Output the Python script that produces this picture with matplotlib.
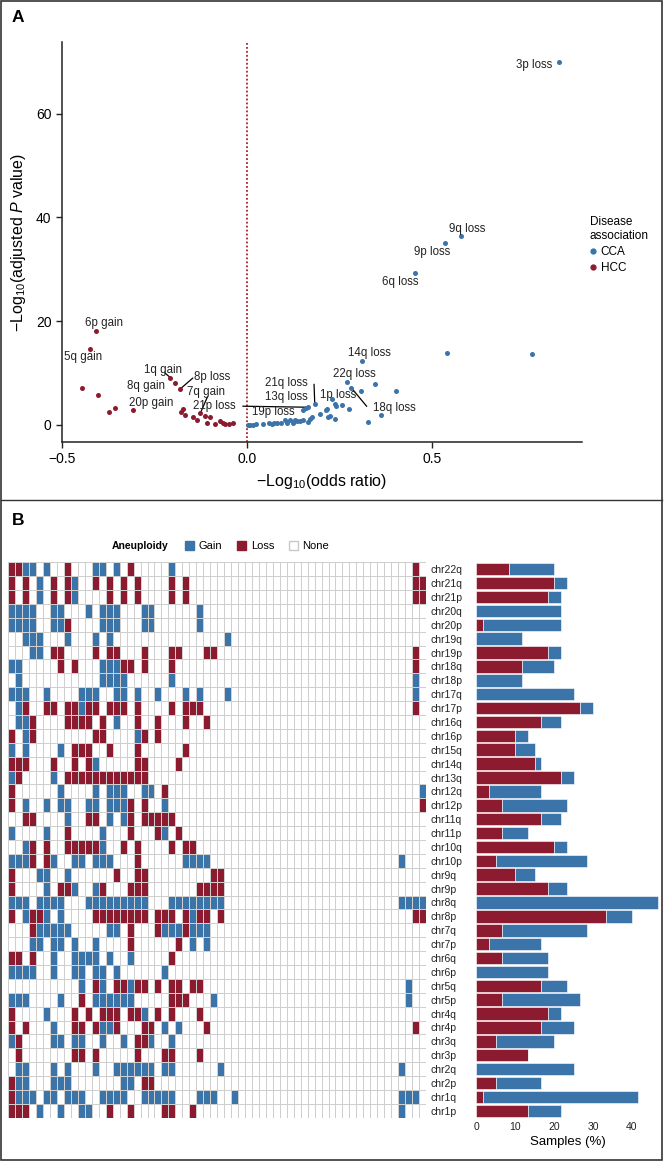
import numpy as np
import matplotlib
matplotlib.use("Agg")
import matplotlib.pyplot as plt
from matplotlib.colors import ListedColormap
from matplotlib.lines import Line2D
from matplotlib.patches import Patch, Rectangle

plt.rcParams["font.family"] = ["Liberation Sans", "DejaVu Sans"]
plt.rcParams["mathtext.fontset"] = "custom"
plt.rcParams["mathtext.rm"] = "Liberation Sans"
plt.rcParams["mathtext.it"] = "Liberation Sans:italic"

BLUE = "#3a74a8"
RED = "#8d1b2f"
W, H = 667, 1162

# ---- panel A: volcano points ----
cca_x = [0.844, 0.577, 0.536, 0.454, 0.310, 0.270, 0.281, 0.183, 0.229, 0.158, 0.165, 0.150,
         0.54, 0.77, 0.002, 0.008, 0.015, 0.023, 0.044, 0.058, 0.067, 0.074, 0.082, 0.091,
         0.103, 0.107, 0.116, 0.124, 0.130, 0.136, 0.143, 0.150, 0.166, 0.170, 0.175, 0.197,
         0.214, 0.217, 0.220, 0.224, 0.238, 0.238, 0.240, 0.256, 0.275, 0.307, 0.328, 0.345,
         0.363, 0.402]
cca_y = [70.0, 36.5, 35.0, 29.2, 12.3, 8.2, 7.2, 4.0, 4.9, 3.2, 3.4, 2.9,
         13.8, 13.6, 0.0, 0.0, 0.05, 0.1, 0.2, 0.3, 0.15, 0.4, 0.3, 0.4,
         0.85, 0.45, 0.9, 0.4, 0.85, 0.75, 0.75, 0.9, 0.6, 1.2, 1.55, 2.05,
         2.85, 3.05, 1.55, 1.7, 1.1, 4.1, 3.6, 3.8, 3.1, 6.5, 0.5, 7.9,
         1.9, 6.5]
hcc_x = [-0.408, -0.424, -0.207, -0.194, -0.181, -0.126, -0.309, -0.445, -0.403, -0.372,
         -0.357, -0.173, -0.178, -0.168, -0.145, -0.136, -0.114, -0.109, -0.100, -0.086,
         -0.073, -0.066, -0.059, -0.050, -0.039]
hcc_y = [18.1, 14.6, 9.1, 8.0, 6.9, 2.3, 2.9, 7.2, 5.7, 2.5,
         3.3, 3.1, 2.4, 1.9, 1.5, 0.9, 1.7, 0.4, 1.5, 0.2,
         0.8, 0.3, 0.1, 0.1, 0.3]

# label text, point (x, y), text (x, y), alignment, leader line?
labels = [
    ("3p loss", (0.844, 70.0), (0.824, 69.4), "right", False),
    ("9q loss", (0.577, 36.5), (0.546, 37.8), "left", False),
    ("9p loss", (0.536, 35.0), (0.451, 33.4), "left", False),
    ("6q loss", (0.454, 29.2), (0.365, 27.6), "left", False),
    ("14q loss", (0.310, 12.3), (0.273, 13.9), "left", False),
    ("22q loss", (0.270, 8.2), (0.232, 9.8), "left", False),
    ("21q loss", (0.183, 4.0), (0.049, 8.1), "left", True),
    ("13q loss", (0.158, 3.2), (0.049, 5.3), "left", False),
    ("19p loss", (0.150, 2.9), (0.014, 2.5), "left", False),
    ("1p loss", (0.229, 4.9), (0.197, 5.7), "left", False),
    ("18q loss", (0.281, 7.2), (0.341, 3.2), "left", True),
    ("21p loss", (0.165, 3.4), (-0.146, 3.6), "left", True),
    ("6p gain", (-0.408, 18.1), (-0.438, 19.7), "left", False),
    ("5q gain", (-0.424, 14.6), (-0.495, 13.1), "left", False),
    ("1q gain", (-0.207, 9.1), (-0.278, 10.5), "left", True),
    ("8q gain", (-0.194, 8.0), (-0.324, 7.5), "left", False),
    ("8p loss", (-0.181, 6.9), (-0.143, 9.3), "left", True),
    ("7q gain", (-0.126, 2.3), (-0.162, 6.4), "left", True),
    ("20p gain", (-0.309, 2.9), (-0.319, 4.2), "left", False),
]
leader_starts = {"21q loss": (0.181, 7.8), "18q loss": (0.323, 3.6), "21p loss": (-0.011, 3.6),
                 "1q gain": (-0.222, 10.0), "8p loss": (-0.147, 9.0), "7q gain": (-0.107, 5.4)}

# ---- panel B: per-sample arm calls (columns = 60 samples) ----
arms = ["chr22q", "chr21q", "chr21p", "chr20q", "chr20p", "chr19q", "chr19p", "chr18q",
        "chr18p", "chr17q", "chr17p", "chr16q", "chr16p", "chr15q", "chr14q", "chr13q",
        "chr12q", "chr12p", "chr11q", "chr11p", "chr10q", "chr10p", "chr9q", "chr9p",
        "chr8q", "chr8p", "chr7q", "chr7p", "chr6q", "chr6p", "chr5q", "chr5p",
        "chr4q", "chr4p", "chr3q", "chr3p", "chr2q", "chr2p", "chr1q", "chr1p"]
gain_cols = [
    [2, 3, 5, 12, 13, 15, 23],
    [4, 9],
    [4, 9],
    [0, 1, 2, 3, 6, 7, 11, 13, 14, 15, 19, 20, 27],
    [0, 1, 2, 3, 6, 7, 13, 14, 15, 19, 20, 27],
    [2, 3, 4, 8, 12, 14, 31],
    [3, 4],
    [0, 1, 13, 14, 15],
    [1, 13, 14, 15, 16, 23, 58],
    [0, 1, 2, 5, 10, 11, 12, 15, 16, 18, 21, 25, 27, 31, 58],
    [1, 10],
    [1, 2, 15],
    [2, 18],
    [0, 2, 7],
    [12],
    [0, 6],
    [7, 12, 14, 15, 16, 19, 20, 59],
    [2, 5, 7, 8, 11, 12, 14, 15, 16, 22],
    [8, 14, 16],
    [0, 5, 13, 22],
    [2, 13],
    [0, 1, 2, 6, 9, 10, 12, 13, 14, 25, 26, 27, 28, 56],
    [4, 5, 8],
    [5, 9, 12],
    [0, 1, 2, 4, 5, 6, 7, 11, 12, 13, 14, 15, 16, 17, 18, 19, 23, 24, 25, 26, 27, 28,
     29, 30, 56, 57, 58, 59],
    [2, 5, 7, 26],
    [4, 5, 6, 7, 8, 14, 15, 22, 23, 24, 26, 27, 28],
    [3, 4, 6, 7, 9, 12, 26, 28],
    [6, 9, 10, 11, 12, 14, 17],
    [0, 1, 2, 3, 6, 9, 10, 12, 13, 15, 22],
    [10, 13, 17, 57],
    [0, 1, 2, 7, 12, 13, 14, 15, 16, 17, 29, 57],
    [5, 19],
    [6, 13, 14, 22, 24],
    [0, 6, 7, 9, 10, 13, 16, 20, 23],
    [],
    [1, 2, 6, 8, 12, 15, 16, 17, 18, 19, 20, 22, 23, 30, 56],
    [1, 2, 6, 7, 8, 16, 17],
    [1, 2, 3, 5, 6, 8, 9, 10, 13, 14, 15, 16, 19, 20, 21, 22, 23, 27, 28, 29, 32, 56, 57, 58],
    [4, 7, 10, 11, 56],
]
loss_cols = [
    [0, 1, 8, 17, 58],
    [0, 2, 6, 8, 12, 14, 16, 18, 23, 25, 58, 59],
    [0, 2, 6, 8, 14, 16, 18, 23, 25, 58, 59],
    [],
    [8],
    [],
    [6, 7, 12, 14, 15, 19, 23, 24, 28, 29, 58],
    [7, 9, 16, 17, 19, 23, 58],
    [],
    [],
    [2, 5, 6, 8, 9, 11, 12, 14, 15, 16, 18, 23, 25, 26, 27, 58],
    [3, 8, 9, 10, 11, 13, 18, 21, 25, 28],
    [0, 3, 12, 13, 19, 21],
    [9, 10, 11, 14, 18, 25],
    [0, 1, 2, 6, 9, 11, 18, 19, 24],
    [1, 8, 9, 10, 11, 12, 13, 14, 15, 16, 17, 18, 19],
    [0, 22],
    [0, 17, 19, 59],
    [2, 3, 11, 12, 17, 19, 20, 21, 22, 23],
    [8, 17, 21, 24],
    [3, 5, 8, 9, 10, 11, 12, 16, 18, 23, 25, 26],
    [3, 5, 18],
    [0, 15, 18, 19, 29, 30],
    [0, 7, 8, 13, 17, 18, 19, 27, 28, 29, 30],
    [],
    [0, 3, 4, 12, 13, 14, 15, 16, 17, 18, 19, 21, 22, 23, 25, 27, 28, 30, 58, 59],
    [3, 17, 21, 25],
    [17, 24],
    [0, 1, 3, 23],
    [],
    [12, 15, 16, 18, 19, 21, 23, 24, 26, 27],
    [10, 23, 24, 25],
    [0, 9, 11, 13, 14, 15, 17, 18, 21, 23, 27],
    [0, 2, 9, 10, 12, 15, 19, 20, 28, 58],
    [1, 18, 19],
    [1, 9, 10, 12, 18, 22, 23, 27],
    [],
    [0, 19, 20],
    [0],
    [0, 1, 2, 14, 17, 22, 23, 26],
]
n_samples = 60

calls = np.zeros((len(arms), n_samples), dtype=int)
for i, (g, l) in enumerate(zip(gain_cols, loss_cols)):
    calls[i, g] = 1
    calls[i, l] = 2
gain_pct = (calls == 1).sum(axis=1) / n_samples * 100
loss_pct = (calls == 2).sum(axis=1) / n_samples * 100


def fx(px):
    return px / W


def fy(py):
    return 1 - py / H


fig = plt.figure(figsize=(W / 100, H / 100), dpi=100)

# ---------------- panel A ----------------
ax = fig.add_axes([fx(62), fy(442), fx(582) - fx(62), fy(42) - fy(442)])
ax.scatter(cca_x, cca_y, s=13, color=BLUE, lw=0, zorder=3)
ax.scatter(hcc_x, hcc_y, s=13, color=RED, lw=0, zorder=3)
ax.axvline(0, color="#b0202a", ls=(0, (1, 1.2)), lw=1.3, zorder=1)
for text, (px_, py_), (tx, ty), ha, leader in labels:
    ax.text(tx, ty, text, ha=ha, va="center", fontsize=8.3, color="#222222", zorder=4)
    if leader:
        sx, sy = leader_starts[text]
        ax.plot([sx, px_], [sy, py_], color="black", lw=0.9, zorder=2)
ax.set_xlim(-0.5, 0.905)
ax.set_ylim(-3.3, 73.8)
ax.set_xticks([-0.5, 0, 0.5])
ax.set_xticklabels(["\u22120.5", "0.0", "0.5"])
ax.set_yticks([0, 20, 40, 60])
ax.tick_params(labelsize=10, length=4, width=1, color="#222222")
for s in ["top", "right"]:
    ax.spines[s].set_visible(False)
for s in ["left", "bottom"]:
    ax.spines[s].set_linewidth(1.1)
    ax.spines[s].set_color("#222222")
ax.set_xlabel("\u2212Log$_{10}$(odds ratio)", fontsize=11.5, labelpad=4)
ax.set_ylabel("\u2212Log$_{10}$(adjusted $P$ value)", fontsize=11.5, labelpad=6)
handles = [Line2D([], [], marker="o", ls="", color=BLUE, markersize=3.5),
           Line2D([], [], marker="o", ls="", color=RED, markersize=3.5)]
ax.legend(handles, ["CCA", "HCC"], title="Disease\nassociation", loc="upper left",
          bbox_to_anchor=(fx(584), fy(210)), bbox_transform=fig.transFigure,
          frameon=False, fontsize=8.5, title_fontsize=8.5, handlelength=0.6,
          handletextpad=0.3, alignment="left", labelspacing=0.35, borderpad=0)

# ---------------- panel B heatmap ----------------
hx = fig.add_axes([fx(8.3), fy(1117.7), fx(426) - fx(8.3), fy(562.3) - fy(1117.7)])
cmap = ListedColormap(["white", BLUE, RED])
hx.pcolormesh(calls, cmap=cmap, vmin=-0.5, vmax=2.5, edgecolors="#cfcfcf", linewidth=0.7)
hx.set_xlim(0, n_samples)
hx.set_ylim(len(arms), 0)
hx.set_xticks([])
hx.set_yticks(np.arange(len(arms)) + 0.5)
hx.set_yticklabels(arms)
hx.yaxis.tick_right()
hx.tick_params(axis="y", length=0, pad=3, labelsize=7.5, labelcolor="#222222")
for s in hx.spines.values():
    s.set_visible(False)

# ---------------- panel B bars ----------------
bx = fig.add_axes([fx(476.3), fy(1117.7), fx(660) - fx(476.3), fy(562.3) - fy(1117.7)])
ypos = np.arange(len(arms)) + 0.5
bx.barh(ypos, loss_pct, height=0.9, color=RED, edgecolor="white", linewidth=0.4)
bx.barh(ypos, gain_pct, left=loss_pct, height=0.9, color=BLUE, edgecolor="white", linewidth=0.4)
bx.set_ylim(len(arms), 0)
bx.set_xlim(0, 47.2)
bx.set_yticks([])
bx.set_xticks([0, 10, 20, 30, 40])
bx.tick_params(axis="x", length=0, pad=3, labelsize=7.5, labelcolor="#222222")
for s in bx.spines.values():
    s.set_visible(False)
bx.set_xlabel("Samples (%)", fontsize=9.5, labelpad=3)

# legend for B
fig.text(fx(112), fy(546), "Aneuploidy", fontsize=7.5, weight="bold", va="center", ha="left")
leg_handles = [Patch(facecolor=BLUE, edgecolor=BLUE),
               Patch(facecolor=RED, edgecolor=RED),
               Patch(facecolor="white", edgecolor="#c8c8c8")]
fig.legend(leg_handles, ["Gain", "Loss", "None"], ncol=3, loc="center left",
           bbox_to_anchor=(fx(185), fy(546)), frameon=False, fontsize=8,
           handlelength=0.85, handleheight=0.85, handletextpad=0.4, columnspacing=1.3,
           borderpad=0, borderaxespad=0)

# panel letters and frames
fig.text(fx(12), fy(18), "A", fontsize=12.5, weight="bold", va="center")
fig.text(fx(12), fy(520), "B", fontsize=12.5, weight="bold", va="center")
fig.add_artist(Rectangle((fx(1), fy(1160)), fx(662) - fx(1), fy(1) - fy(1160),
                         transform=fig.transFigure, fill=False, ec="#333333", lw=1.2))
fig.add_artist(Line2D([fx(1), fx(662)], [fy(500), fy(500)], transform=fig.transFigure,
                      color="#333333", lw=1.0))

fig.savefig("out.png", dpi=100)
